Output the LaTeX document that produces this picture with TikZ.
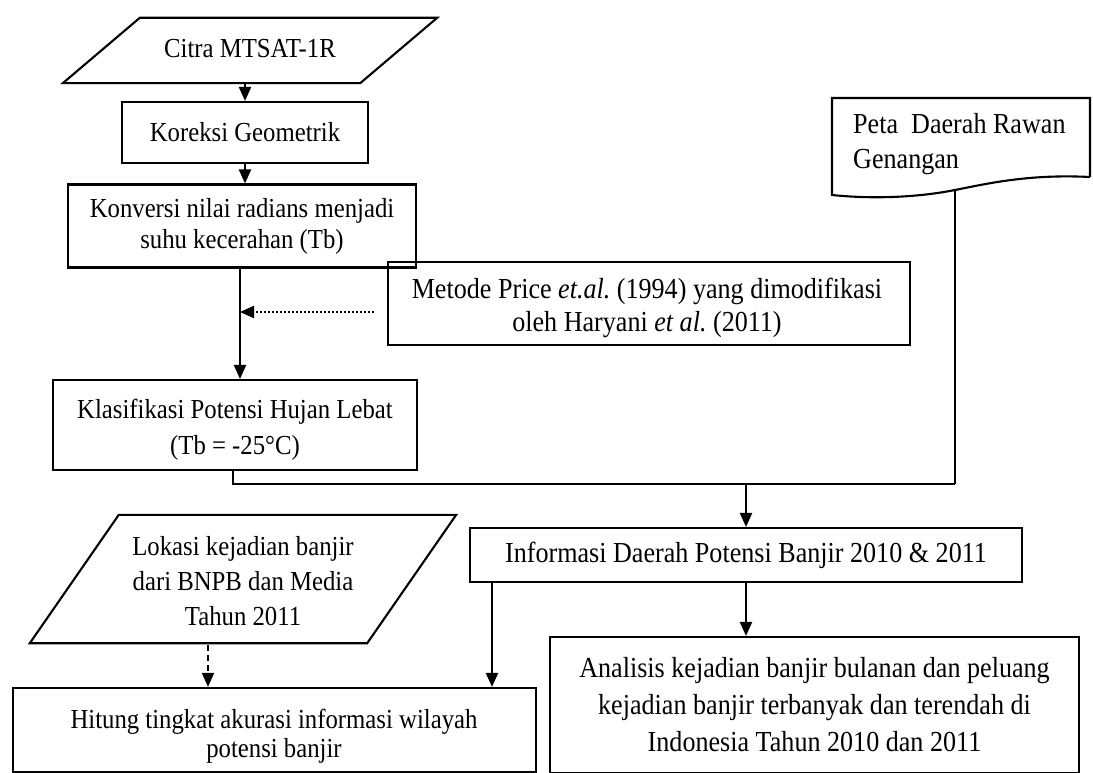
\documentclass[tikz,border=0pt]{standalone}
\usepackage{fontspec}
\setmainfont{Liberation Serif}[FakeStretch=0.9]
\usetikzlibrary{arrows.meta}
\begin{document}
\begin{tikzpicture}[x=1pt,y=-1pt,
  every node/.style={inner sep=0pt, align=center},
  fl/.style={font=\fontsize{27.5}{#1}\selectfont},
  fr/.style={font=\fontsize{29}{#1}\selectfont},
  box/.style={draw, line width=2.1pt},
  conn/.style={line width=2.1pt},
  arr/.style={conn, -{Triangle[length=14pt,width=12pt]}},
]
\useasboundingbox[fill=white] (0,0) rectangle (1093,773);

% nodes
\node[fl=33, minimum width=374pt, minimum height=65pt] (citra) at (250,49) {Citra MTSAT-1R};
\draw[box, line join=miter] ([xshift=77pt,yshift=-1.5pt]citra.north west) -- ([yshift=-1.5pt]citra.north east) -- ([xshift=-77pt,yshift=-1.5pt]citra.south east) -- ([yshift=-1.5pt]citra.south west) -- cycle;

\node[fl=33, box, minimum width=246pt, minimum height=61pt] (koreksi) at (245,132.5) {Koreksi Geometrik};
\node[fl=31, box, minimum width=348pt, minimum height=83pt] (konversi) at (242,226) {Konversi nilai radians menjadi\\suhu kecerahan (Tb)};

\node[box, minimum width=522pt, minimum height=83pt] (metode) at (649,303.5) {};
\node[fr=33] (metodetxt) at (647,308) {Metode Price {\itshape et.al.}\ (1994) yang dimodifikasi\\oleh Haryani {\itshape et al.}\ (2011)};

\node[box, minimum width=364pt, minimum height=90pt] (klas) at (235,425) {};
\node[fl=36] (klastxt) at (235,430) {Klasifikasi Potensi Hujan Lebat\\(Tb = -25°C)};

\node[fr=35, align=left, anchor=west] (peta) at (853,144) {Peta\ \ Daerah Rawan\\Genangan};
\draw[box] (1090,177) -- (1090,98) -- (832,98) -- (832,195) .. controls (880,200) and (925,196) .. (955,190) .. controls (990,183) and (1030,174) .. (1090,177);
\coordinate (petab) at (955,190);

\node[fr=35, box, minimum width=552pt, minimum height=54pt] (info) at (746,555) {Informasi Daerah Potensi Banjir 2010 \& 2011};

\node[fl=35, minimum width=426pt, minimum height=128pt] (lokasi) at (243,581) {Lokasi kejadian banjir\\dari BNPB dan Media\\Tahun 2011};
\draw[box, line join=miter] ([xshift=89pt,yshift=2pt]lokasi.north west) -- ([yshift=2pt]lokasi.north east) -- ([xshift=-89pt,yshift=2pt]lokasi.south east) -- ([yshift=2pt]lokasi.south west) -- cycle;

\node[box, minimum width=523pt, minimum height=84pt] (hitung) at (274.5,730) {};
\node[fl=29] (hitungtxt) at (274,736) {Hitung tingkat akurasi informasi wilayah\\potensi banjir};
\node[fr=37, box, minimum width=529pt, minimum height=136pt] (anal) at (814.5,705) {Analisis kejadian banjir bulanan dan peluang\\kejadian banjir terbanyak dan terendah di\\Indonesia Tahun 2010 dan 2011};

% connectors
\draw[arr] (koreksi.north |- 0,84) -- (koreksi.north);
\draw[arr] (koreksi.south) -- (koreksi.south |- konversi.north);
\draw[arr] ([xshift=-2pt]konversi.south) -- ([xshift=-2pt]konversi.south |- klas.north);
\coordinate (dotend) at (240,312);
\draw[arr, dash pattern=on 2pt off 2pt, shorten <=13pt] (metode.west |- dotend) -- (dotend);

\coordinate (j1) at (233,484);
\coordinate (j2) at (955,484);
\draw[conn] ([xshift=-2pt]klas.south) -- ([xshift=-2pt]klas.south |- j1) -- (j2);
\draw[conn] (petab) -- (j2);
\draw[arr] (info.north |- j1) -- (info.north);

\draw[arr] ([xshift=-254pt]info.south) -- ([xshift=-254pt]info.south |- hitung.north);
\draw[arr] (info.south) -- (info.south |- anal.north);
\draw[arr, dash pattern=on 6pt off 4pt] ([xshift=-35pt]lokasi.south) -- ([xshift=-35pt]lokasi.south |- hitung.north);
\end{tikzpicture}
\end{document}
